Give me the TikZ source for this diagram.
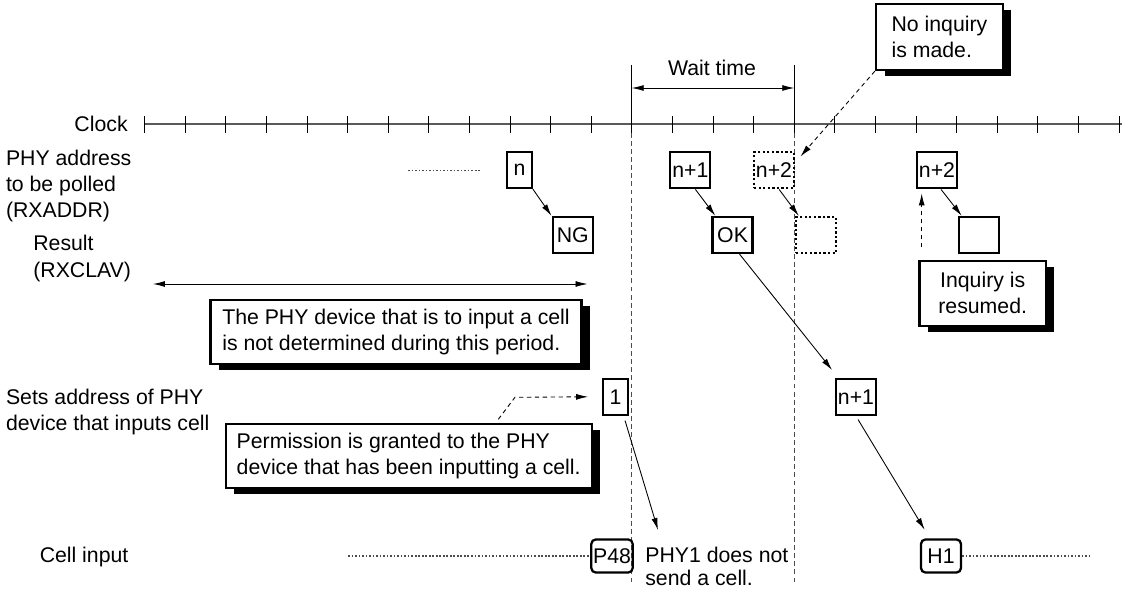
\documentclass[tikz,border=0pt]{standalone}
\usepackage{fontspec}
\setmainfont{Liberation Sans}
\usepackage{tikz}
\usetikzlibrary{calc}
\usetikzlibrary{arrows.meta}
\usetikzlibrary{shadows}

\begin{document}
\begin{tikzpicture}[x=0.02cm,y=-0.02cm,
  font=\fontsize{12.1pt}{14.8pt}\selectfont,
  lbl/.style={anchor=west,align=left,inner sep=0pt},
  box/.style={draw,line width=1.3pt,minimum width=0.8cm,minimum height=0.72cm,inner sep=1pt},
  narrowbox/.style={box,minimum width=0.49cm},
  dotbox/.style={box,dash pattern=on 1.3pt off 1.3pt},
  cellbox/.style={box,rounded corners=2.5pt,minimum height=0.66cm},
  note/.style={draw,line width=1.3pt,fill=white,inner sep=0pt,
    general shadow={fill=black,shadow xshift=0.17cm,shadow yshift=-0.12cm}},
  arr/.style={line width=0.5pt,-{Latex[length=0.24cm,width=0.12cm]}},
  dasharr/.style={arr,dash pattern=on 2.5pt off 2pt},
  vdash/.style={black!70,line width=0.7pt,dash pattern=on 2.8pt off 1.8pt},
  dotline/.style={black!70,line width=0.6pt,dash pattern=on 1pt off 1pt}]

\useasboundingbox (0,0) rectangle (1134,591);

\draw[black!65,line width=0.9pt] (144.7,124) -- (1122,124);
\foreach \k in {0,...,24}
  \draw[line width=0.5pt] ({144.7+40.6*\k},116) -- ({144.7+40.6*\k},133);

\draw[line width=0.6pt] (631.7,65) -- (631.7,124);
\draw[line width=0.6pt] (794.3,65) -- (794.3,124);
\draw[vdash] (631.7,133) -- (631.7,583);
\draw[vdash] (794.3,133) -- (794.3,583);

\coordinate (waitL) at (631.7,88);
\coordinate (waitR) at (794.3,88);
\draw[arr,{Latex[length=0.24cm,width=0.12cm]}-{Latex[length=0.24cm,width=0.12cm]}] (waitL) -- (waitR);
\node (waitLbl) at (712,68) {Wait time};

\node[lbl,anchor=east] (clockLbl) at (128,124) {Clock};
\node[lbl] (addrLbl) at (5.7,186) {PHY address\\to be polled\\(RXADDR)};
\node[lbl] (resLbl) at (33,258.5) {Result\\(RXCLAV)};
\node[lbl] (setsLbl) at (5.7,412.5) {Sets address of PHY\\device that inputs cell};
\node[lbl] (cellLbl) at (39.4,556.7) {Cell input};

\node[narrowbox] (bN) at (519.5,170) {n};
\node[box] (bNG) at (572.7,235) {NG};
\node[box] (bN1) at (690.3,170.3) {n+1};
\node[box] (bOK) at (732.6,235) {OK};
\node[dotbox] (bN2d) at (774,170.3) {n+2};
\node[dotbox] (bEd) at (816,235) {};
\node[box] (bN2) at (937,170.3) {n+2};
\node[box] (bE) at (979,235) {};
\node[narrowbox] (bOne) at (615.5,396.7) {1};
\node[box] (bN1b) at (856,397) {n+1};
\node[cellbox] (bP48) at (612,556) {P48};
\node[cellbox] (bH1) at (941,556) {H1};

\coordinate (addrDotL) at (408,170.7);
\coordinate (addrDotR) at (480.7,170.7);
\draw[dotline] (addrDotL) -- (addrDotR);
\coordinate (cellDotL) at (348,556);
\coordinate (cellDotR) at (1089,556);
\draw[dotline] (cellDotL) -- (bP48.west);
\draw[dotline] (bH1.east) -- (cellDotR);

\coordinate (clavL) at (153,284);
\coordinate (clavR) at (587.5,284);
\draw[arr,{Latex[length=0.24cm,width=0.12cm]}-{Latex[length=0.24cm,width=0.12cm]}] (clavL) -- (clavR);

\node[note,minimum width=2.54cm,minimum height=1.32cm,align=left] (noteNoInq) at (939.5,37) {No inquiry\\is made.};
\node[note,minimum width=2.53cm,minimum height=1.3cm,align=center] (noteResume) at (982.7,293.3) {Inquiry is\\resumed.};
\node[note,minimum width=7.42cm,minimum height=1.28cm,align=left] (notePeriod) at (396,332) {The PHY device that is to input a cell\\is not determined during this period.};
\node[note,minimum width=7.32cm,minimum height=1.28cm,align=left] (notePerm) at (408.7,456) {Permission is granted to the PHY\\device that has been inputting a cell.};

\node[lbl,align=left,font=\fontsize{12.1pt}{13.2pt}\selectfont] (txtNoSend) at (645,566.7) {PHY1 does not\\send a cell.};

\draw[arr] (bN.south east) -- (bNG.north west);
\draw[arr] (bN1.-75) -- (bOK.132);
\draw[arr] (bN2d.-75) -- (bEd.132);
\draw[arr] (bN2.-78) -- (bE.132);
\draw[arr,shorten >=0.2cm] (bOK.-70) -- ([xshift=0.07cm]bN1b.north west);
\draw[arr,shorten <=0.08cm,shorten >=0.2cm] (bN1b.south) -- ([xshift=0.2cm]bH1.north west);
\coordinate (noSendTip) at (658,530);
\draw[arr,shorten <=0.1cm] (bOne.-67) -- (noSendTip);

\draw[dasharr,shorten >=0.16cm] (noteNoInq.south west) -- (bN2d.20);
\coordinate (permFoot) at (498.3,419.3);
\coordinate (permKnee) at (515,397.3);
\draw[dasharr,shorten >=0.28cm] (permFoot) -- (permKnee) -- (bOne.west);
\coordinate (resumeFoot) at (921.7,247);
\draw[dasharr,shorten >=0.08cm] (resumeFoot) -- (resumeFoot |- bN2.south);

\end{tikzpicture}
\end{document}
